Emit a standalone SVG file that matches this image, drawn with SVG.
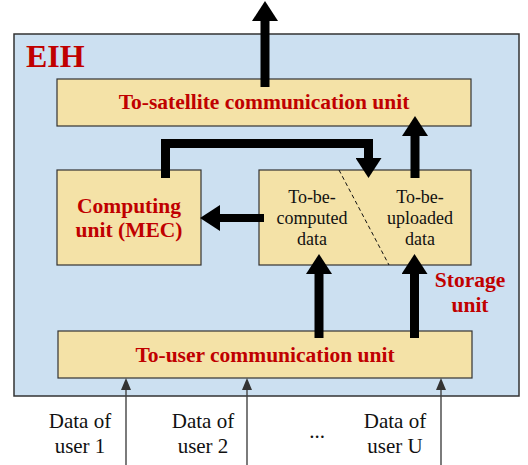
<svg xmlns="http://www.w3.org/2000/svg" width="528" height="465" viewBox="0 0 528 465">
<style>
.box{fill:#f4e2a7;stroke:#333;stroke-width:1.2}
.red{fill:#c00000;font-family:"Liberation Serif",serif;font-weight:bold;font-size:21.5px;text-anchor:middle}
.blk{fill:#111;font-family:"Liberation Serif",serif;font-size:18px;text-anchor:middle}
.lbl{fill:#111;font-family:"Liberation Serif",serif;font-size:21px;text-anchor:middle}
.thick{fill:none;stroke:#000;stroke-width:9}
.thin{fill:none;stroke:#444;stroke-width:1.4}
</style>
<defs>
<marker id="big" markerUnits="userSpaceOnUse" viewBox="0 0 20 26" refX="0" refY="13" markerWidth="20" markerHeight="26" orient="auto">
<path d="M0,0 L20,13 L0,26 Z" fill="#000"/>
</marker>
<marker id="small" markerUnits="userSpaceOnUse" viewBox="0 0 12 10" refX="0" refY="5" markerWidth="12" markerHeight="10" orient="auto">
<path d="M0,0 L12,5 L0,10 Z" fill="#333"/>
</marker>
</defs>
<g id="eih">
<rect x="14" y="34" width="505" height="362" fill="#cce0f1" stroke="#333" stroke-width="1.5"/>
<text x="26" y="67" fill="#c00000" font-family="Liberation Serif,serif" font-weight="bold" font-size="32">EIH</text>
</g>
<g id="to-satellite">
<rect class="box" x="57" y="79" width="414" height="47"/>
<text class="red" x="264" y="109">To-satellite communication unit</text>
</g>
<g id="computing">
<rect class="box" x="57" y="170" width="144" height="95"/>
<text class="red" x="129" y="213">Computing</text>
<text class="red" x="129" y="237">unit (MEC)</text>
</g>
<g id="storage">
<rect class="box" x="259" y="170" width="212" height="95"/>
<line x1="339" y1="170" x2="389" y2="265" stroke="#111" stroke-width="1" stroke-dasharray="4,3"/>
<text class="blk" x="312" y="203">To-be-</text>
<text class="blk" x="312" y="224">computed</text>
<text class="blk" x="312" y="245">data</text>
<text class="blk" x="420" y="203">To-be-</text>
<text class="blk" x="420" y="224">uploaded</text>
<text class="blk" x="420" y="245">data</text>
<text class="red" x="470" y="287">Storage</text>
<text class="red" x="470" y="312">unit</text>
</g>
<g id="to-user">
<rect class="box" x="58" y="331" width="414" height="47"/>
<text class="red" x="265" y="362">To-user communication unit</text>
</g>
<g id="labels">
<text class="lbl" x="80" y="428">Data of</text>
<text class="lbl" x="80" y="453">user 1</text>
<text class="lbl" x="203" y="428">Data of</text>
<text class="lbl" x="203" y="453">user 2</text>
<text class="lbl" x="317" y="438">...</text>
<text class="lbl" x="395" y="428">Data of</text>
<text class="lbl" x="395" y="453">user U</text>
</g>
<g id="connectors">
<path class="thick" d="M265,87 V21" marker-end="url(#big)"/>
<path class="thick" d="M415,178 V136" marker-end="url(#big)"/>
<path class="thick" d="M165.5,178 V143.5 H368.5 V158" marker-end="url(#big)"/>
<path class="thick" d="M264,218 H220" marker-end="url(#big)" style="stroke-width:8"/>
<path class="thick" d="M319,338 V274" marker-end="url(#big)"/>
<path class="thick" d="M414.5,338 V274" marker-end="url(#big)"/>
<path class="thin" d="M126,465 V390" marker-end="url(#small)"/>
<path class="thin" d="M247,465 V390" marker-end="url(#small)"/>
<path class="thin" d="M441,465 V390" marker-end="url(#small)"/>
</g>
</svg>
